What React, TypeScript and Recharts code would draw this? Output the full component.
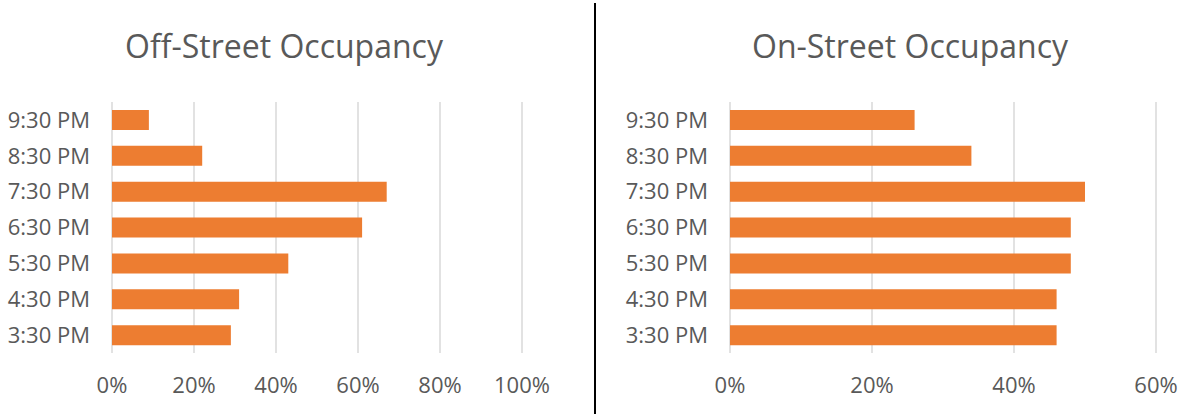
import { BarChart, Bar, XAxis, YAxis, CartesianGrid } from 'recharts';

const times = ['3:30 PM', '4:30 PM', '5:30 PM', '6:30 PM', '7:30 PM', '8:30 PM', '9:30 PM'];
const offStreet = [0.29, 0.31, 0.43, 0.61, 0.67, 0.22, 0.09];
const onStreet = [0.46, 0.46, 0.48, 0.48, 0.5, 0.34, 0.26];
const offTicks = [0, 0.2, 0.4, 0.6, 0.8, 1];
const onTicks = [0, 0.2, 0.4, 0.6];

const offData = times.map((t, i) => ({ time: t, value: offStreet[i] }));
const onData = times.map((t, i) => ({ time: t, value: onStreet[i] }));

const ORANGE = '#ED7D31';
const TEXT = '#595959';
const FONT = '"Open Sans", sans-serif';

const pct = (v: number) => `${Math.round(v * 100)}%`;

function Occupancy({
  data,
  ticks,
  width,
  axisWidth,
  right,
}: {
  data: { time: string; value: number }[];
  ticks: number[];
  width: number;
  axisWidth: number;
  right: number;
}) {
  return (
    <BarChart
      width={width}
      height={414}
      data={data}
      layout="vertical"
      margin={{ top: 102, right, bottom: 0, left: 0 }}
    >
      <CartesianGrid horizontal={false} stroke="#d9d9d9" strokeWidth={1.5} />
      <XAxis
        type="number"
        domain={[ticks[0], ticks[ticks.length - 1]]}
        ticks={ticks}
        tickFormatter={pct}
        axisLine={false}
        tickLine={false}
        tickSize={0}
        tickMargin={24}
        height={61}
        interval={0}
        tick={{ fill: TEXT, fontSize: 22, fontFamily: FONT }}
      />
      <YAxis
        type="category"
        dataKey="time"
        reversed
        width={axisWidth}
        axisLine={false}
        tickLine={false}
        tickSize={0}
        tickMargin={22}
        interval={0}
        tick={{ fill: TEXT, fontSize: 22, fontFamily: FONT }}
      />
      <Bar dataKey="value" fill={ORANGE} barSize={20} isAnimationActive={false} />
    </BarChart>
  );
}

const titleStyle = (cx: number): React.CSSProperties => ({
  position: 'absolute',
  top: 30,
  left: cx - 250,
  width: 500,
  textAlign: 'center',
  fontFamily: FONT,
  fontSize: 32,
  lineHeight: '32px',
  color: TEXT,
  whiteSpace: 'nowrap',
});

export default function App() {
  return (
    <div style={{ position: 'absolute', left: 0, top: 0, width: 1183, height: 414, background: '#fff' }}>
      <div style={{ position: 'absolute', left: 0, top: 0 }}>
        <Occupancy data={offData} ticks={offTicks} width={594} axisWidth={112} right={72} />
      </div>
      <div style={{ position: 'absolute', left: 596, top: 0 }}>
        <Occupancy data={onData} ticks={onTicks} width={587} axisWidth={134} right={27} />
      </div>
      <div style={titleStyle(284)}>Off-Street Occupancy</div>
      <div style={titleStyle(910)}>On-Street Occupancy</div>
      <div style={{ position: 'absolute', left: 594, top: 3, width: 2, height: 411, background: '#000' }} />
    </div>
  );
}
